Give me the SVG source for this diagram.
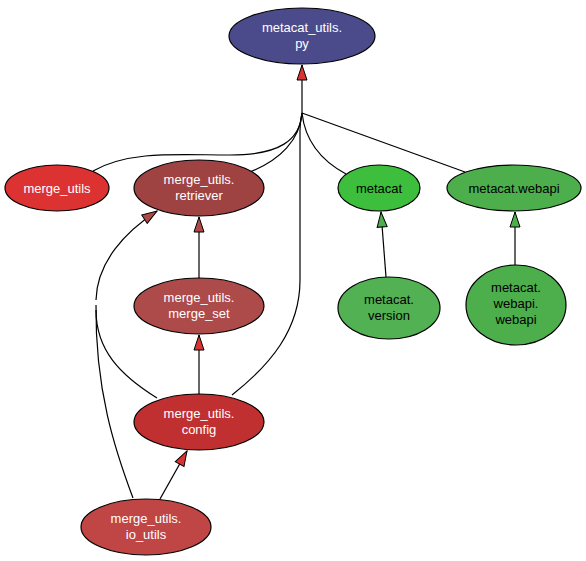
<svg xmlns="http://www.w3.org/2000/svg" width="586" height="561" viewBox="0 0 586 561">
<style>
.n{stroke:#000;stroke-width:1.2}
.t{font-family:"Liberation Sans",Arial,sans-serif;font-size:13px;text-anchor:middle}
.w{fill:#fff}
.b{fill:#000}
.e{fill:none;stroke:#000;stroke-width:1.2}
</style>
<defs>
<marker id="ar" markerWidth="17" markerHeight="12" refX="16" refY="6" orient="auto" markerUnits="userSpaceOnUse" viewBox="0 0 17 12">
<path d="M1,1 L16,6 L1,11 Z" fill="#d83434" stroke="#000" stroke-width="1"/>
</marker>
<marker id="ab" markerWidth="17" markerHeight="12" refX="16" refY="6" orient="auto" markerUnits="userSpaceOnUse" viewBox="0 0 17 12">
<path d="M1,1 L16,6 L1,11 Z" fill="#b04848" stroke="#000" stroke-width="1"/>
</marker>
<marker id="ag" markerWidth="17" markerHeight="12" refX="16" refY="6" orient="auto" markerUnits="userSpaceOnUse" viewBox="0 0 17 12">
<path d="M1,1 L16,6 L1,11 Z" fill="#4caf4c" stroke="#000" stroke-width="1"/>
</marker>
</defs>
<rect width="586" height="561" fill="#fff"/>
<g id="edges">
<path class="e" d="M93,171 C130,150 180,155 230,155 C280,155 300,140 302,113"/>
<path class="e" d="M250,172 C280,160 300,140 302,113"/>
<path class="e" d="M232,395 C270,365 300,330 300,280 L300,130 C300,122 301,117 302,113"/>
<path class="e" d="M346,174 C320,160 305,140 302,113"/>
<path class="e" d="M465,172 L302,113"/>
<path class="e" d="M302,113 L302,65" marker-end="url(#ar)"/>
<path class="e" d="M199,278 L199,217" marker-end="url(#ab)"/>
<path class="e" d="M199,394 L199,335" marker-end="url(#ar)"/>
<path class="e" d="M160,499 L187,451" marker-end="url(#ar)"/>
<path class="e" d="M386,277 L381,212" marker-end="url(#ag)"/>
<path class="e" d="M515,265 L515,212" marker-end="url(#ag)"/>
<path class="e" d="M133,498 C115,450 95,390 96,305"/>
<path class="e" d="M157,398 C120,375 96,350 96,310"/>
<path class="e" d="M96,300 C97,262 125,232 157,211" marker-end="url(#ab)"/>
</g>
<g id="metacat_utils_py"><ellipse class="n" cx="302" cy="36" rx="73" ry="28" fill="#4b4b8c"/><text class="t w" x="302" y="32">metacat_utils.</text><text class="t w" x="302" y="48">py</text></g>
<g id="merge_utils"><ellipse class="n" cx="57" cy="188" rx="52" ry="23" fill="#dc3232"/><text class="t w" x="57" y="193">merge_utils</text></g>
<g id="merge_utils_retriever"><ellipse class="n" cx="199" cy="188" rx="65" ry="28" fill="#9e4242"/><text class="t w" x="199" y="184">merge_utils.</text><text class="t w" x="199" y="200">retriever</text></g>
<g id="metacat"><ellipse class="n" cx="379" cy="188" rx="41" ry="23" fill="#3dbf3d"/><text class="t b" x="379" y="193">metacat</text></g>
<g id="metacat_webapi"><ellipse class="n" cx="514" cy="188" rx="67" ry="23" fill="#4caf4c"/><text class="t b" x="514" y="193">metacat.webapi</text></g>
<g id="merge_utils_merge_set"><ellipse class="n" cx="199" cy="306" rx="65" ry="28" fill="#ad4a4a"/><text class="t w" x="199" y="302">merge_utils.</text><text class="t w" x="199" y="318">merge_set</text></g>
<g id="metacat_version"><ellipse class="n" cx="389" cy="308" rx="51" ry="31" fill="#52b152"/><text class="t b" x="389" y="304">metacat.</text><text class="t b" x="389" y="320">version</text></g>
<g id="metacat_webapi_webapi"><ellipse class="n" cx="516" cy="305" rx="50" ry="40" fill="#4caf4c"/><text class="t b" x="516" y="292">metacat.</text><text class="t b" x="516" y="308">webapi.</text><text class="t b" x="516" y="324">webapi</text></g>
<g id="merge_utils_config"><ellipse class="n" cx="199" cy="422" rx="65" ry="28" fill="#c03030"/><text class="t w" x="199" y="418">merge_utils.</text><text class="t w" x="199" y="434">config</text></g>
<g id="merge_utils_io_utils"><ellipse class="n" cx="146" cy="527" rx="65" ry="28" fill="#c04545"/><text class="t w" x="146" y="523">merge_utils.</text><text class="t w" x="146" y="539">io_utils</text></g>
</svg>
